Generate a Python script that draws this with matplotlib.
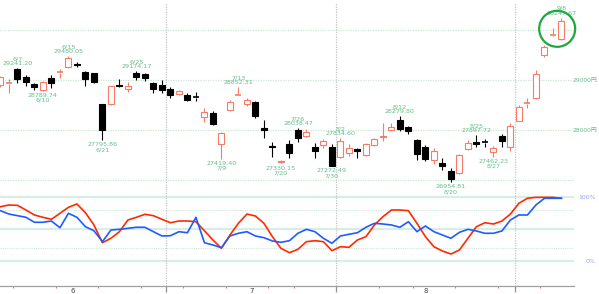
import numpy as np
import matplotlib
matplotlib.use("Agg")
import matplotlib.pyplot as plt
from matplotlib.patches import Rectangle, Ellipse

# =========================
# DATA
# =========================
dates = [
    "06-03", "06-04", "06-07", "06-08", "06-09", "06-10", "06-11", "06-14", "06-15", "06-16",
    "06-17", "06-18", "06-21", "06-22", "06-23", "06-24", "06-25", "06-28", "06-29", "06-30",
    "07-01", "07-02", "07-05", "07-06", "07-07", "07-08", "07-09", "07-12", "07-13", "07-14",
    "07-15", "07-16", "07-19", "07-20", "07-21", "07-26", "07-27", "07-28", "07-29", "07-30",
    "08-02", "08-03", "08-04", "08-05", "08-06", "08-10", "08-11", "08-12", "08-13", "08-16",
    "08-17", "08-18", "08-19", "08-20", "08-23", "08-24", "08-25", "08-26", "08-27", "08-30",
    "08-31", "09-01", "09-02", "09-03", "09-06", "09-07", "09-08",
]

opens = [
    28900, 28920, 29220, 29060, 28920, 28800, 29040, 29150, 29260, 29320,
    29160, 29140, 28520, 28530, 28900, 28820, 29140, 29130, 28940, 28900,
    28820, 28720, 28710, 28660, 28260, 28340, 27720, 28400, 28700, 28520,
    28560, 28040, 27680, 27360, 27720, 28000, 27890, 27660, 27700, 27660,
    27460, 27550, 27620, 27500, 27700, 27860, 28010, 28200, 28060, 27800,
    27670, 27400, 27350, 27180, 27150, 27620, 27760, 27760, 27560, 27880,
    27670, 28180, 28530, 28640, 29500, 29900, 29820,
]
highs = [
    29080, 29020, 29241.20, 29100, 28940, 28980, 29100, 29220, 29480.05, 29370,
    29180, 29150, 28530, 28890, 29020, 28960, 29174.17, 29150, 28960, 29000,
    28860, 28800, 28740, 28760, 28440, 28380, 27960, 28600, 28852.31, 28640,
    28580, 28200, 27760, 27400, 27800, 28038.47, 28030, 27740, 27820, 27720,
    27834.60, 27730, 27640, 27740, 27850, 28150, 28140, 28279.80, 28080, 27820,
    27700, 27640, 27450, 27250, 27520, 27800, 27897.72, 27820, 27680, 27920,
    28150, 28500, 28640, 29200, 29700, 30040, 30247.67,
]
lows = [
    28860, 28740, 28940, 28880, 28800, 28789.74, 28840, 29040, 29250, 29260,
    28880, 28940, 27795.86, 28500, 28870, 28760, 29000, 28990, 28740, 28740,
    28640, 28700, 28580, 28580, 28160, 28100, 27419.40, 28390, 28700, 28480,
    28240, 27840, 27460, 27330.15, 27450, 27760, 27860, 27440, 27640, 27272.49,
    27440, 27480, 27450, 27480, 27680, 27780, 27980, 27990, 27920, 27400,
    27380, 27320, 27200, 26954.81, 27130, 27600, 27660, 27660, 27462.23, 27660,
    27580, 28180, 28440, 28620, 29460, 29880, 29800,
]
closes = [
    29060, 28941, 29019, 28963, 28860, 28958, 28948, 29161, 29441, 29291,
    29018, 28964, 28010, 28884, 28874, 28875, 29066, 29048, 28812, 28791,
    28707, 28783, 28598, 28643, 28366, 28118, 27940, 28569, 28718, 28608,
    28279, 28003, 27652, 27388, 27548, 27833, 27970, 27581, 27782, 27283,
    27781, 27641, 27584, 27728, 27820, 27888, 28070, 28015, 27977, 27523,
    27424, 27585, 27281, 27013, 27494, 27732, 27724, 27742, 27641, 27789,
    28089, 28451, 28543, 29128, 29659, 29916, 30181,
]

# stochastics (%)
stoch_red = [
    84.8, 87.5, 87.0, 79.7, 71.9, 68.3, 65.2, 74.5, 83.9, 89.1,
    75.5, 56.3, 28.6, 35.5, 45.8, 64.1, 68.3, 73.0, 70.8, 65.2,
    59.8, 62.5, 62.5, 61.4, 47.3, 32.8, 19.8, 40.6, 58.9, 73.4,
    70.3, 58.9, 38.0, 19.8, 13.0, 18.3, 30.2, 31.7, 30.2, 16.1,
    22.3, 21.4, 32.8, 38.0, 56.3, 69.2, 79.7, 79.7, 78.6, 58.9,
    38.0, 22.3, 15.6, 10.9, 17.2, 35.5, 53.6, 59.8, 57.8, 62.5,
    73.4, 90.2, 98.0, 99.5, 99.5, 99.5, 98.0,
]
stoch_blue = [
    78.6, 73.4, 70.8, 68.3, 60.5, 60.5, 62.5, 52.0, 74.5, 68.3,
    53.6, 47.3, 30.2, 48.4, 49.5, 51.1, 52.7, 52.7, 45.8, 39.1,
    39.5, 45.8, 44.2, 68.3, 28.6, 25.0, 20.8, 39.1, 43.3, 45.8,
    39.1, 36.4, 31.3, 29.2, 31.7, 43.3, 49.5, 45.8, 35.5, 27.7,
    39.1, 41.7, 44.2, 52.7, 58.9, 57.8, 56.3, 52.7, 61.4, 45.8,
    54.7, 45.8, 40.6, 35.5, 44.8, 49.5, 46.9, 43.3, 43.3, 46.9,
    64.1, 71.9, 71.9, 87.5, 98.0, 98.0, 98.0,
]

# annotated highs / lows
high_marks = ["06-07", "06-15", "06-25", "07-13", "07-26", "08-02", "08-12", "08-25", "09-08"]
low_marks = ["06-10", "06-21", "07-09", "07-20", "07-30", "08-20", "08-27"]

price_grid = [27000, 28000, 29000, 30000]
price_labels = {29000: "29000円", 28000: "28000円"}
months = ["6", "7", "8"]
month_centers = [8.5, 29.5, 50.0]

# =========================
# STYLE
# =========================
UP = "#f47c68"
DOWN = "#000000"
LABEL_GREEN = "#64bd8a"
GRID_GREEN = "#c9e8d3"
RED_LINE = "#ff2a00"
BLUE_LINE = "#1f5cff"

W, H = 599, 294
fig = plt.figure(figsize=(W / 100, H / 100), dpi=100)
fig.patch.set_facecolor("white")

plot_w = 574
ax = fig.add_axes([0, (H - 190) / H, plot_w / W, 190 / H])
ax2 = fig.add_axes([0, (H - 286) / H, plot_w / W, 96 / H])
right_edge = 597 / plot_w   # axes fraction for right-aligned side labels

x = np.arange(len(dates))
xmin, xmax = -0.05, plot_w / 8.5 - 0.05
day = np.array(["2021-" + d for d in dates], dtype="datetime64[D]")
month_idx = np.array([int(d[:2]) for d in dates])
month_bounds = [i - 0.5 for i in range(1, len(dates)) if month_idx[i] != month_idx[i - 1]]

# =========================
# PRICE PANEL
# =========================
ax.set_xlim(xmin, xmax)
ax.set_ylim(26800, 30600)
ax.axis("off")

for g in price_grid:
    ax.axhline(g, color=GRID_GREEN, lw=0.9, ls=(0, (1, 1)), zorder=0)
    if g in price_labels:
        ax.text(right_edge, g, price_labels[g], transform=ax.get_yaxis_transform(),
                fontsize=4.3, color=LABEL_GREEN, va="center", ha="right",
                family=["DejaVu Sans", "Noto Sans CJK JP"], clip_on=False)

# blank box in the top-left corner
ax.add_patch(Rectangle((0, 0.84), 37 / plot_w, 0.16, transform=ax.transAxes,
                       facecolor="white", edgecolor="none", zorder=1))

for b in month_bounds:
    ax.axvline(b, color="#c4c4c4", lw=0.9, ls=(0, (1, 1)), ymax=0.985, zorder=0)

body_w = 0.7
for i in range(len(dates)):
    o, h, l, c = opens[i], highs[i], lows[i], closes[i]
    up = c >= o
    col = UP if up else DOWN
    lo_b, hi_b = min(o, c), max(o, c)
    ax.vlines(i, l, lo_b, color=col, lw=0.8, zorder=2)
    ax.vlines(i, hi_b, h, color=col, lw=0.8, zorder=2)
    if hi_b - lo_b < 25:
        ax.hlines((o + c) / 2, i - body_w / 2, i + body_w / 2, color=col, lw=1.2, zorder=3)
    else:
        ax.add_patch(Rectangle((i - body_w / 2, lo_b), body_w, hi_b - lo_b,
                               facecolor="white" if up else DOWN,
                               edgecolor=col, lw=0.8, zorder=3))

for d in high_marks:
    i = dates.index(d)
    m, dd = d.split("-")
    ax.annotate(f"{int(m)}/{int(dd)}\n{highs[i]:.2f}", (i, highs[i]),
                xytext=(0, 1.5), textcoords="offset points",
                ha="center", va="bottom", fontsize=4.6, color=LABEL_GREEN,
                linespacing=0.95, annotation_clip=False)

for d in low_marks:
    i = dates.index(d)
    m, dd = d.split("-")
    ax.annotate(f"{lows[i]:.2f}\n{int(m)}/{int(dd)}", (i, lows[i]),
                xytext=(0, -1.5), textcoords="offset points",
                ha="center", va="top", fontsize=4.6, color=LABEL_GREEN,
                linespacing=0.95, annotation_clip=False, zorder=5)

# highlight the last two sessions
last2 = [len(dates) - 2, len(dates) - 1]
cx = np.mean(last2)
cy = (min(lows[j] for j in last2) + max(highs[j] for j in last2)) / 2
ax.add_patch(Ellipse((cx, cy), 36 / 8.5, 36 * 20, fill=False,
                     edgecolor="#1ea83a", lw=1.6, zorder=6, clip_on=False))

# =========================
# STOCHASTIC PANEL
# =========================
ax2.set_xlim(xmin, xmax)
ax2.set_ylim(-39.06, 110.94)
ax2.set_facecolor("none")
for s in ["top", "left", "right"]:
    ax2.spines[s].set_visible(False)
ax2.spines["bottom"].set_color("#a0a0a0")
ax2.spines["bottom"].set_linewidth(0.9)

for lvl in [0, 50, 100]:
    ax2.axhline(lvl, color="#d6ede8", lw=1.6, zorder=0)
for lvl in [20, 80]:
    ax2.axhline(lvl, color="#cfe8dc", lw=0.8, ls=(0, (1, 1)), zorder=0)
for b in month_bounds:
    ax2.axvline(b, color="#c4c4c4", lw=0.9, ls=(0, (1, 1)), zorder=0)

ax2.plot(x, stoch_red, color=RED_LINE, lw=1.2, zorder=3)
ax2.plot(x, stoch_blue, color=BLUE_LINE, lw=1.2, zorder=4)

ax2.text(right_edge - 0.002, 100, "100%", transform=ax2.get_yaxis_transform(), fontsize=4.5,
         color="#8fa0ff", va="center", ha="right", clip_on=False)
ax2.text(right_edge - 0.002, 0, "0%", transform=ax2.get_yaxis_transform(), fontsize=4.5,
         color="#8fa0ff", va="center", ha="right", clip_on=False)

# month ticks and week marks
ax2.set_yticks([])
ax2.set_xticks(month_bounds)
ax2.set_xticklabels([])
ax2.tick_params(axis="x", length=4.5, width=0.9, color="#909090", direction="out")
week_starts = [i - 0.5 for i in range(1, len(dates))
               if (day[i] - day[i - 1]).astype(int) > 1 and i - 0.5 not in month_bounds]
ax2.set_xticks(week_starts, minor=True)
ax2.tick_params(axis="x", which="minor", length=1.5, width=0.8, color="#f07060", direction="out")

for m, pos in zip(months, month_centers):
    ax2.text(pos, -0.02, m, transform=ax2.get_xaxis_transform(), fontsize=5,
             color="#444444", ha="center", va="top", clip_on=False)

fig.savefig("out.png", dpi=100)
